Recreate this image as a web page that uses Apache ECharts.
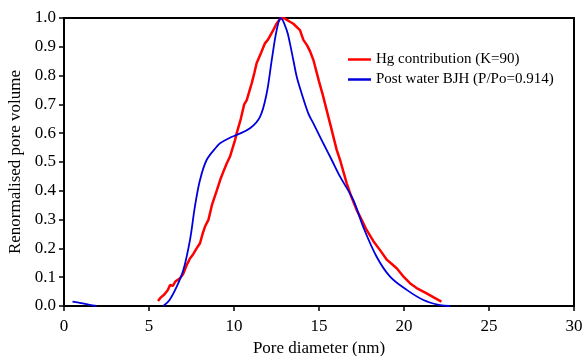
<!DOCTYPE html>
<html><head><meta charset="utf-8">
<script src="https://cdn.jsdelivr.net/npm/echarts@6/dist/echarts.min.js"></script>
<style>html,body{margin:0;padding:0;background:#fff}#c{width:585px;height:356px}</style>
</head><body><div id="c"></div>
<script>
const xTicks = [0,5,10,15,20,25,30];
const yTicks = [0,0.1,0.2,0.3,0.4,0.5,0.6,0.7,0.8,0.9,1.0];
const seriesNames = ['Hg contribution (K=90)', 'Post water BJH (P/Po=0.914)'];
const hgX = [5.53,5.7,5.9,6.1,6.24,6.4,6.55,6.82,7.0,7.2,7.41,7.6,7.8,8.0,8.15,8.29,8.5,8.7,8.98,9.2,9.4,9.57,9.76,10.06,10.16,10.4,10.6,10.75,11.04,11.2,11.33,11.6,11.82,12.0,12.31,12.5,12.75,13.0,13.29,13.49,13.88,14.08,14.3,14.47,14.67,15.0,15.25,15.45,15.65,16.04,16.24,16.63,16.9,17.22,17.5,17.8,18.2,18.59,19.0,19.3,19.57,20.0,20.35,20.8,21.33,21.8,22.2];
const hgY = [0.017,0.03,0.04,0.055,0.073,0.07,0.085,0.096,0.11,0.14,0.165,0.18,0.2,0.218,0.25,0.275,0.3,0.35,0.40,0.44,0.47,0.495,0.518,0.576,0.60,0.65,0.70,0.715,0.773,0.81,0.843,0.88,0.912,0.925,0.958,0.98,1.0,0.998,0.987,0.98,0.958,0.924,0.905,0.885,0.854,0.78,0.727,0.68,0.634,0.542,0.507,0.426,0.38,0.333,0.3,0.264,0.225,0.194,0.16,0.145,0.131,0.1,0.079,0.06,0.044,0.028,0.015];
const bjhX = [0.5,1.0,1.5,1.92,3.5,5.84,6.2,6.63,7.02,7.41,7.7,8.0,8.39,8.98,9.18,9.76,10.16,10.94,11.53,11.92,12.22,12.51,12.75,13.1,13.29,13.49,13.69,13.98,14.37,14.67,15.25,15.75,16.24,17.02,17.6,18.39,19.18,20.16,21.14,22.12,22.7];
const bjhY = [0.015,0.01,0.004,0,null,0,0.02,0.067,0.125,0.229,0.345,0.4375,0.507,0.553,0.565,0.584,0.594,0.617,0.657,0.738,0.854,0.958,1.0,0.958,0.912,0.854,0.796,0.738,0.669,0.634,0.565,0.507,0.449,0.368,0.275,0.171,0.102,0.056,0.021,0.003,0];

const font = '"Liberation Serif","Times New Roman",serif';
const chart = echarts.init(document.getElementById('c'));
chart.setOption({
  animation: false,
  grid: {left: 64, right: 11, top: 18, bottom: 50, outerBoundsMode: 'none', containLabel: false,
         show: true, borderColor: '#000', borderWidth: 2},
  legend: {
    orient: 'vertical', left: 348, top: 52, padding: 0, icon: 'rect', itemWidth: 23, itemHeight: 2.5, itemGap: 5,
    textStyle: {fontFamily: font, fontSize: 15, color: '#000'},
    data: seriesNames
  },
  xAxis: {
    type: 'value', min: 0, max: 30, interval: 5,
    name: 'Pore diameter (nm)', nameLocation: 'middle', nameGap: 33,
    nameTextStyle: {fontFamily: font, fontSize: 17, color: '#000'},
    axisLine: {lineStyle: {color: '#000', width: 2}},
    axisTick: {inside: false, length: 5, lineStyle: {color: '#000', width: 1.5}},
    axisLabel: {fontFamily: font, fontSize: 17, color: '#000', margin: 12,
      formatter: v => xTicks.includes(v) ? String(v) : ''},
    splitLine: {show: false}
  },
  yAxis: {
    type: 'value', min: 0, max: 1, interval: 0.1,
    name: 'Renormalised pore volume', nameLocation: 'middle', nameGap: 35,
    nameTextStyle: {fontFamily: font, fontSize: 17, color: '#000'},
    axisLine: {show: true, lineStyle: {color: '#000', width: 2}},
    axisTick: {show: true, inside: false, length: 5, lineStyle: {color: '#000', width: 1.5}},
    axisLabel: {fontFamily: font, fontSize: 17, color: '#000', margin: 8,
      formatter: v => { const t = yTicks.find(k => Math.abs(k - v) < 1e-6); return t === undefined ? '' : t.toFixed(1); }},
    splitLine: {show: false}
  },
  series: [
    {name: seriesNames[0], type: 'line', symbol: 'none', showSymbol: false,
     lineStyle: {color: '#ff0000', width: 2.5}, itemStyle: {color: '#ff0000'},
     data: hgX.map((x, i) => [x, hgY[i]])},
    {name: seriesNames[1], type: 'line', symbol: 'none', showSymbol: false, smooth: 0.35, connectNulls: false,
     lineStyle: {color: '#0000dd', width: 1.8}, itemStyle: {color: '#0000dd'},
     data: bjhX.map((x, i) => [x, bjhY[i]])}
  ]
});
</script></body></html>
